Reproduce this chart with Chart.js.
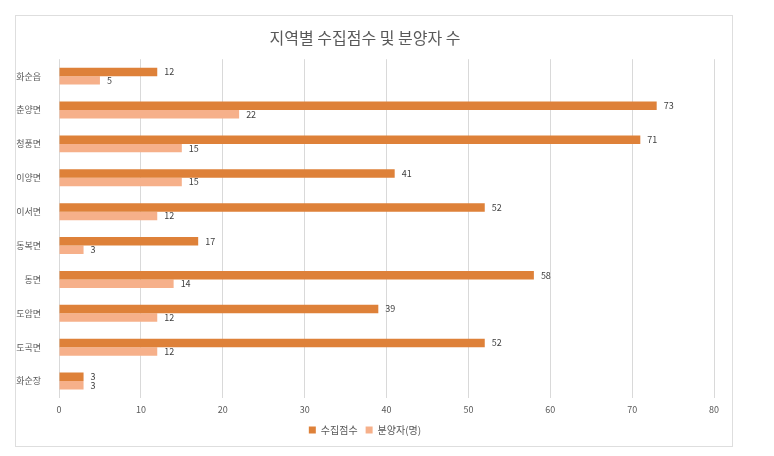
<!DOCTYPE html>
<html>
<head>
<meta charset="utf-8">
<script src="https://cdn.jsdelivr.net/npm/chart.js@4/dist/chart.umd.min.js"></script>
<style>
  html, body { margin: 0; padding: 0; background: #fff; }
  #frame {
    position: absolute; left: 15px; top: 15px;
    width: 716px; height: 430px;
    border: 1px solid #dedede;
  }
</style>
</head>
<body>
<div id="frame"><canvas id="chart" width="716" height="430"></canvas></div>
<script>
  const regions = ['화순읍', '춘양면', '청풍면', '이양면', '이서면', '동복면', '동면', '도암면', '도곡면', '화순장'];
  const collected = [12, 73, 71, 41, 52, 17, 58, 39, 52, 3];
  const sellers = [5, 22, 15, 15, 12, 3, 14, 12, 12, 3];
  const xTicks = [0, 10, 20, 30, 40, 50, 60, 70, 80];

  const KR = '"Noto Sans CJK KR", "Noto Sans", sans-serif';

  // numbers at bar ends
  const barLabels = {
    id: 'barLabels',
    afterDatasetsDraw(chart) {
      const ctx = chart.ctx;
      ctx.save();
      ctx.font = '9px ' + KR;
      ctx.fillStyle = '#404040';
      ctx.textBaseline = 'middle';
      chart.data.datasets.forEach((ds, i) => {
        chart.getDatasetMeta(i).data.forEach((bar, j) => {
          ctx.fillText(ds.data[j], bar.x + 7, bar.y);
        });
      });
      ctx.restore();
    }
  };

  new Chart(document.getElementById('chart'), {
    type: 'bar',
    data: {
      labels: regions,
      datasets: [
        { label: '수집점수', data: collected, backgroundColor: '#de8139' },
        { label: '분양자(명)', data: sellers, backgroundColor: '#f6b08a' }
      ]
    },
    options: {
      indexAxis: 'y',
      responsive: false,
      animation: false,
      categoryPercentage: 0.5,
      barPercentage: 1.0,
      layout: { padding: { left: 0, right: 18, top: 0, bottom: 1 } },
      scales: {
        x: {
          min: 0, max: 80,
          afterBuildTicks: s => { s.ticks = xTicks.map(v => ({ value: v })); },
          afterFit: s => { s.height = 19; },
          grid: { color: '#d9d9d9', drawTicks: false },
          border: { display: false },
          ticks: { color: '#595959', font: { size: 9, family: KR }, padding: 6 }
        },
        y: {
          afterFit: s => { s.width = 43; },
          grid: { display: false },
          border: { display: false },
          ticks: { color: '#595959', font: { size: 9, family: KR }, padding: 10 }
        }
      },
      plugins: {
        title: {
          display: true,
          text: '지역별 수집점수 및 분양자 수',
          color: '#595959',
          font: { size: 16, weight: 'normal', family: KR },
          padding: { top: 12, bottom: 12 }
        },
        legend: {
          position: 'bottom',
          labels: {
            color: '#595959',
            font: { size: 10, family: KR },
            boxWidth: 7, boxHeight: 7,
            padding: 8
          }
        },
        tooltip: { enabled: false }
      }
    },
    plugins: [barLabels]
  });
</script>
</body>
</html>
